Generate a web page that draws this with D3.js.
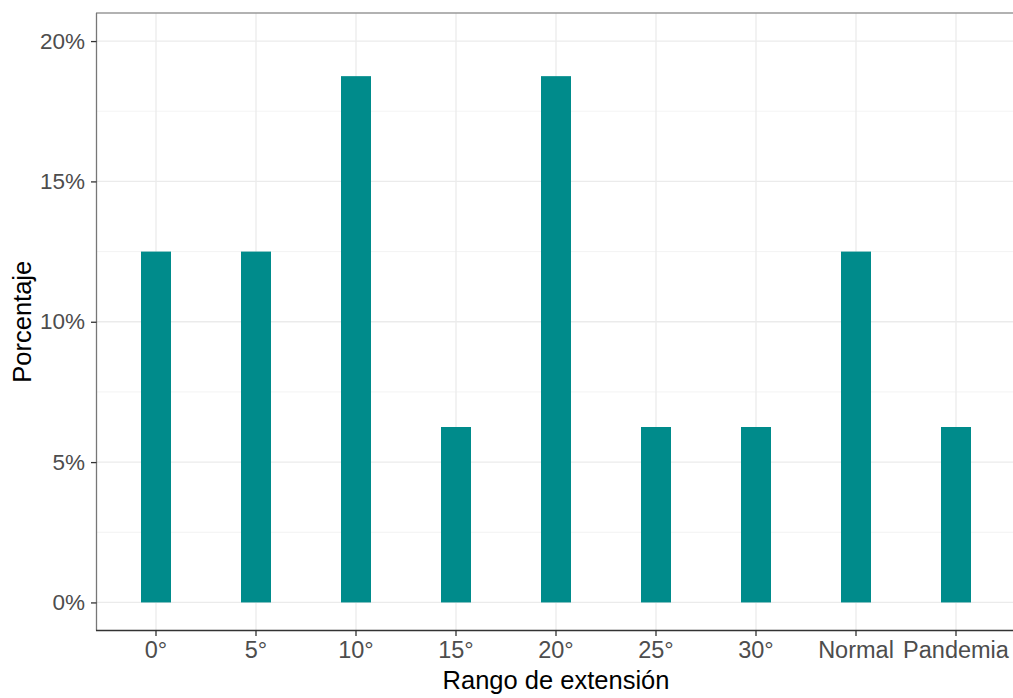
<!DOCTYPE html>
<html>
<head>
<meta charset="utf-8">
<script src="https://cdn.jsdelivr.net/npm/d3@7"></script>
<style>
html,body{margin:0;padding:0;background:#fff;}
svg{display:block;font-family:"Liberation Sans",Arial,sans-serif;}
</style>
</head>
<body>
<svg id="chart" width="1013" height="698"></svg>
<script>
const categories = ["0°","5°","10°","15°","20°","25°","30°","Normal","Pandemia"];
const percentages = [12.5, 12.5, 18.75, 6.25, 18.75, 6.25, 6.25, 12.5, 6.25];
const yTicks = [0, 5, 10, 15, 20];
const yMinor = [2.5, 7.5, 12.5, 17.5];
const xTitle = "Rango de extensión";
const yTitle = "Porcentaje";

const svg = d3.select("#chart");
const panel = {left: 96, right: 1016, top: 13, bottom: 630.5};

const x = d3.scaleBand().domain(categories).range([panel.left, panel.right]).paddingInner(0).paddingOuter(0.1);
const y = d3.scaleLinear().domain([-1, 21]).range([panel.bottom, panel.top]);

// gridlines
const g = svg.append("g");
g.selectAll(".ymin").data(yMinor).enter().append("line")
  .attr("x1", panel.left).attr("x2", panel.right)
  .attr("y1", d => y(d)).attr("y2", d => y(d))
  .attr("stroke", "#f0f0f0").attr("stroke-width", 0.8);
g.selectAll(".ymaj").data(yTicks).enter().append("line")
  .attr("x1", panel.left).attr("x2", panel.right)
  .attr("y1", d => y(d)).attr("y2", d => y(d))
  .attr("stroke", "#ebebeb").attr("stroke-width", 1.3);
g.selectAll(".xmaj").data(categories).enter().append("line")
  .attr("y1", panel.top).attr("y2", panel.bottom)
  .attr("x1", d => x(d) + x.bandwidth()/2).attr("x2", d => x(d) + x.bandwidth()/2)
  .attr("stroke", "#ebebeb").attr("stroke-width", 1.3);

// bars
const bw = x.bandwidth() * 0.3;
svg.append("g").selectAll("rect").data(categories).enter().append("rect")
  .attr("x", (d) => x(d) + x.bandwidth()/2 - bw/2)
  .attr("width", bw)
  .attr("y", (d, i) => y(percentages[i]))
  .attr("height", (d, i) => y(0) - y(percentages[i]))
  .attr("fill", "#008B8B");

// panel border
svg.append("line").attr("x1", panel.left).attr("x2", panel.right).attr("y1", panel.top).attr("y2", panel.top)
  .attr("stroke", "#999").attr("stroke-width", 1.3);
svg.append("line").attr("x1", panel.left + 0.5).attr("x2", panel.left + 0.5).attr("y1", panel.top).attr("y2", panel.bottom)
  .attr("stroke", "#777").attr("stroke-width", 1.3);

// axes
const xAxis = d3.axisBottom(x).tickSize(5.5).tickPadding(5);
const gx = svg.append("g").attr("transform", `translate(0,${panel.bottom})`).call(xAxis);
gx.select(".domain").attr("stroke", "#333").attr("stroke-width", 1.3).attr("d", `M${panel.left},0H${panel.right}`);
gx.selectAll(".tick line").attr("stroke", "#333").attr("stroke-width", 1.3);
gx.selectAll(".tick text").attr("fill", "#4d4d4d").attr("font-size", 23.5).attr("font-family", "Liberation Sans, Arial, sans-serif");

const yAxis = d3.axisLeft(y).tickValues(yTicks).tickSize(5.5).tickPadding(6).tickFormat(d => d + "%");
const gy = svg.append("g").attr("transform", `translate(${panel.left + 0.5},0)`).call(yAxis);
gy.select(".domain").remove();
gy.selectAll(".tick line").attr("stroke", "#333").attr("stroke-width", 1.3);
gy.selectAll(".tick text").attr("fill", "#4d4d4d").attr("font-size", 22.5).attr("font-family", "Liberation Sans, Arial, sans-serif");

// titles
svg.append("text").attr("x", (panel.left + panel.right)/2).attr("y", 689)
  .attr("text-anchor", "middle").attr("font-size", 25.5).attr("fill", "#000").text(xTitle);
svg.append("text").attr("transform", `translate(31,${(panel.top + panel.bottom)/2}) rotate(-90)`)
  .attr("text-anchor", "middle").attr("font-size", 25.5).attr("fill", "#000").text(yTitle);
</script>
</body>
</html>
